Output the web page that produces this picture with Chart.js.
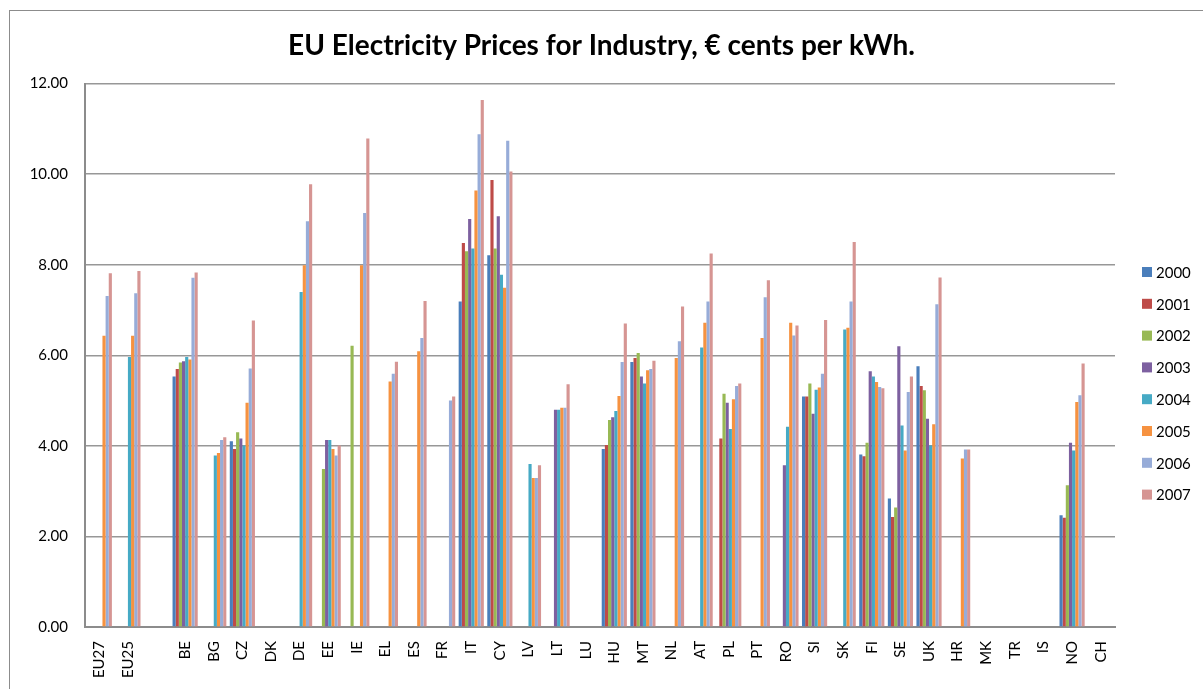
<!DOCTYPE html>
<html>
<head>
<meta charset="utf-8">
<script src="https://cdn.jsdelivr.net/npm/chart.js"></script>
<style>
  body { margin: 0; background: #fff; }
  #wrap { position: relative; width: 1203px; height: 689px; }
  #frame { position: absolute; left: 9px; top: 10px; right: -2px; bottom: -2px; border: 1px solid #8c8c8c; }
  canvas { position: absolute; left: 0; top: 0; }
</style>
</head>
<body>
<div id="wrap">
  <div id="frame"></div>
  <canvas id="myChart" width="1203" height="689"></canvas>
</div>
<script>
// countries, rows of six:
// EU27 EU25 '' BE BG CZ / DK DE EE IE EL ES / FR IT CY LV LT LU
// HU MT NL AT PL PT / RO SI SK FI SE UK / HR MK TR IS NO CH
const countries = ["EU27", "EU25", "", "BE", "BG", "CZ",
  "DK", "DE", "EE", "IE", "EL", "ES",
  "FR", "IT", "CY", "LV", "LT", "LU",
  "HU", "MT", "NL", "AT", "PL", "PT",
  "RO", "SI", "SK", "FI", "SE", "UK",
  "HR", "MK", "TR", "IS", "NO", "CH"];

const years = ["2000", "2001", "2002", "2003", "2004", "2005", "2006", "2007"];

const p2000 = [null, null, null, 5.53, null, 4.10,
  null, null, null, null, null, null,
  null, 7.19, 8.21, null, null, null,
  3.93, 5.85, null, null, null, null,
  null, 5.09, null, 3.81, 2.84, 5.76,
  null, null, null, null, 2.47, null];

const p2001 = [null, null, null, 5.70, null, 3.93,
  null, null, null, null, null, null,
  null, 8.48, 9.87, null, null, null,
  4.02, 5.94, null, null, 4.16, null,
  null, 5.09, null, 3.77, 2.43, 5.32,
  null, null, null, null, 2.41, null];

const p2002 = [null, null, null, 5.84, null, 4.30,
  null, null, 3.49, 6.21, null, null,
  null, 8.30, 8.36, null, null, null,
  4.57, 6.05, null, null, 5.15, null,
  null, 5.38, null, 4.07, 2.64, 5.23,
  null, null, null, null, 3.13, null];

const p2003 = [null, null, null, 5.87, null, 4.16,
  null, null, 4.13, null, null, null,
  null, 9.01, 9.07, null, 4.80, null,
  4.63, 5.53, null, null, 4.95, null,
  3.57, 4.71, null, 5.65, 6.20, 4.60,
  null, null, null, null, 4.07, null];

const p2004 = [null, 5.96, null, 5.96, 3.79, 4.01,
  null, 7.40, 4.13, null, null, null,
  null, 8.36, 7.78, 3.60, 4.80, null,
  4.77, 5.38, null, 6.17, 4.37, null,
  4.42, 5.24, 6.57, 5.53, 4.45, 4.01,
  null, null, null, null, 3.90, null];

const p2005 = [6.43, 6.43, null, 5.91, 3.84, 4.95,
  null, 7.99, 3.93, 7.99, 5.42, 6.09,
  null, 9.64, 7.49, 3.29, 4.84, null,
  5.10, 5.67, 5.94, 6.72, 5.03, 6.38,
  6.72, 5.29, 6.61, 5.41, 3.90, 4.48,
  3.72, null, null, null, 4.97, null];

const p2006 = [7.31, 7.37, null, 7.71, 4.13, 5.71,
  null, 8.96, 3.79, 9.14, 5.59, 6.38,
  5.00, 10.88, 10.74, 3.29, 4.84, null,
  5.85, 5.70, 6.31, 7.19, 5.32, 7.28,
  6.44, 5.59, 7.19, 5.30, 5.19, 7.13,
  3.92, null, null, null, 5.12, null];

const p2007 = [7.81, 7.86, null, 7.83, 4.19, 6.77,
  null, 9.78, 4.01, 10.79, 5.86, 7.20,
  5.09, 11.64, 10.06, 3.57, 5.36, null,
  6.70, 5.88, 7.08, 8.25, 5.38, 7.66,
  6.66, 6.78, 8.50, 5.27, 5.53, 7.72,
  3.92, null, null, null, 5.82, null];

const yTicks = [0, 2, 4, 6, 8, 10, 12];

const series = [p2000, p2001, p2002, p2003, p2004, p2005, p2006, p2007];
const colors = ["#4a7ebb", "#be4b48", "#98b954", "#7d60a0", "#46aac5", "#f69240", "#97acd8", "#d69593"];

// legend drawn by hand so it sits where Excel put it
const sideLegend = {
  id: "sideLegend",
  afterDraw(chart) {
    const ctx = chart.ctx;
    ctx.save();
    ctx.font = "15px Lato";
    ctx.textBaseline = "middle";
    chart.data.datasets.forEach((ds, i) => {
      const y = 272 + i * 31.8;
      ctx.fillStyle = ds.backgroundColor;
      ctx.fillRect(1142, y - 5, 10, 10);
      ctx.fillStyle = "#000";
      ctx.fillText(ds.label, 1156, y + 1);
    });
    ctx.restore();
  }
};

var ctx = document.getElementById("myChart").getContext("2d");
var myChart = new Chart(ctx, {
  type: "bar",
  data: {
    labels: countries,
    datasets: series.map((vals, i) => ({
      label: years[i],
      data: vals,
      backgroundColor: colors[i],
      borderWidth: 0,
      categoryPercentage: 0.88,
      barPercentage: 1.0,
    })),
  },
  options: {
    responsive: false,
    animation: false,
    layout: { padding: 0 },
    plugins: {
      legend: { display: false },
      tooltip: { enabled: false },
      title: {
        display: true,
        text: "EU Electricity Prices for Industry, € cents per kWh.",
        color: "#000",
        font: { family: "Lato", size: 28, weight: "bold" },
        padding: { top: 29, bottom: 21 },
      },
    },
    scales: {
      x: {
        grid: { display: false, drawTicks: false },
        border: { color: "#8c8c8c", width: 2 },
        ticks: {
          color: "#000",
          font: { family: "Lato", size: 15 },
          maxRotation: 90,
          minRotation: 90,
          autoSkip: false,
          padding: 14,
        },
        afterFit: (scale) => { scale.height = 62; },
      },
      y: {
        min: 0,
        max: 12,
        afterBuildTicks: (scale) => { scale.ticks = yTicks.map(v => ({ value: v })); },
        grid: { color: "#979797", lineWidth: 1.5, drawTicks: false },
        border: { color: "#8c8c8c", width: 2 },
        ticks: {
          color: "#000",
          font: { family: "Lato", size: 15 },
          padding: 17,
          callback: (v) => Number(v).toFixed(2),
        },
        afterFit: (scale) => { scale.width = 85; },
      },
      // empty right-hand axis only reserves room for the legend
      side: {
        position: "right",
        display: true,
        min: 0,
        max: 12,
        grid: { display: false, drawTicks: false },
        border: { display: false },
        ticks: { display: false },
        afterFit: (scale) => { scale.width = 88; },
      },
    },
  },
  plugins: [sideLegend],
});
</script>
</body>
</html>
